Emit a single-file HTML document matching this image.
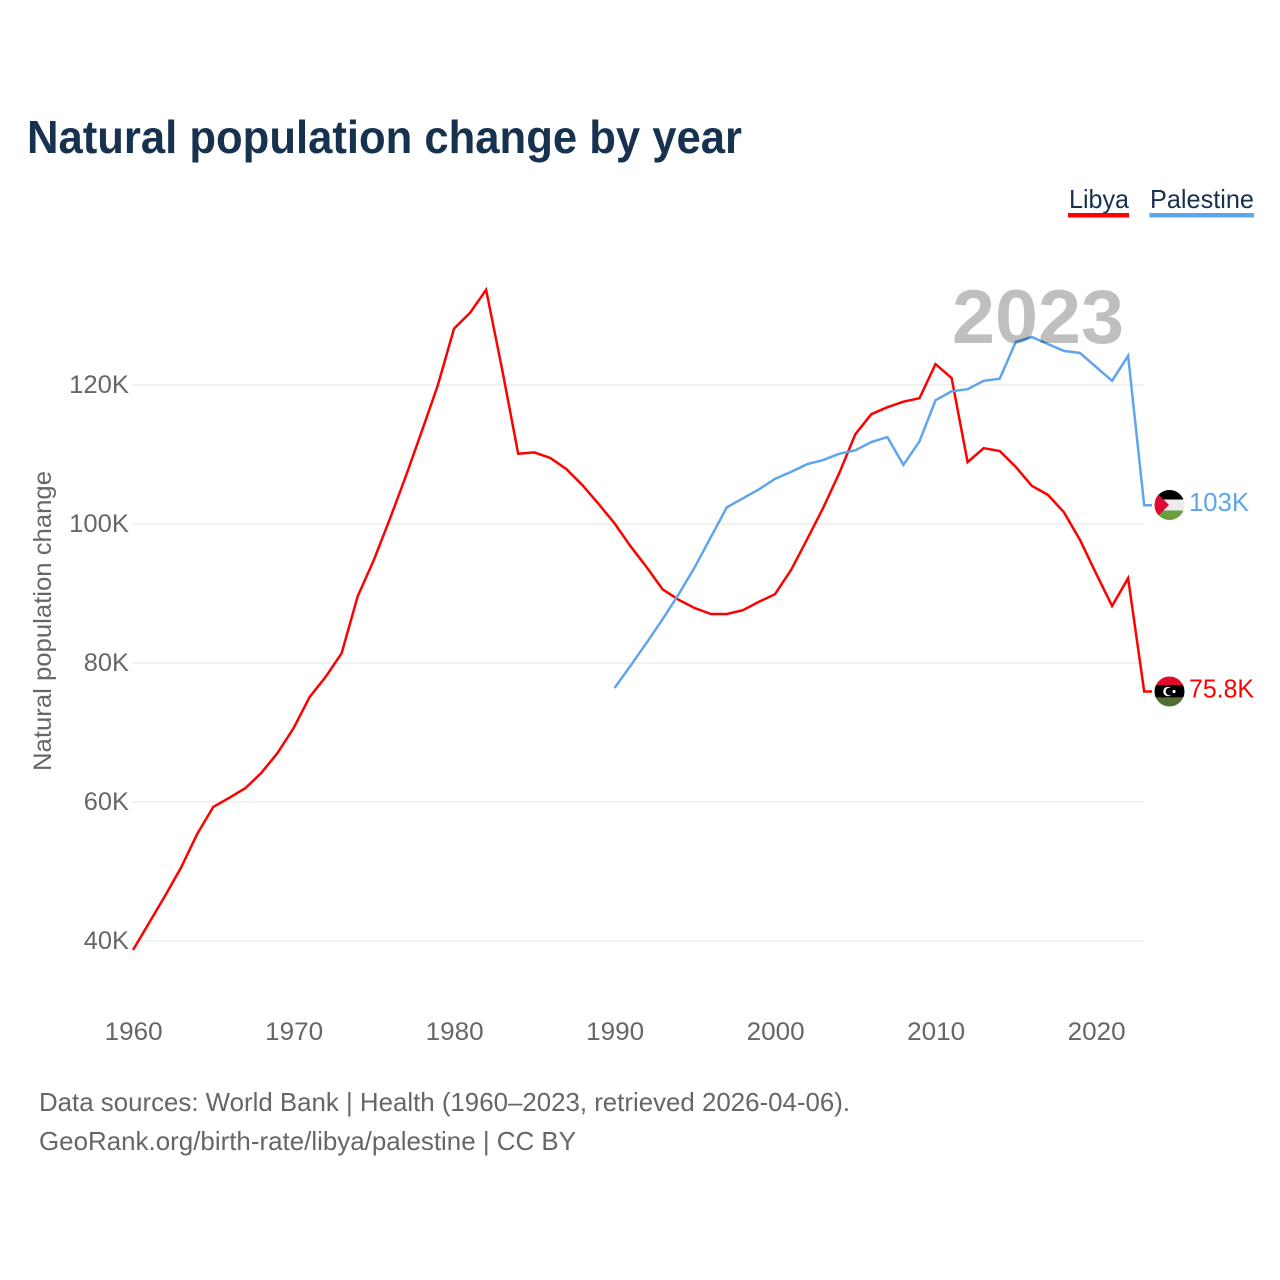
<!DOCTYPE html>
<html lang="en">
<head>
<meta charset="utf-8">
<title>Natural population change by year</title>
<style>
html,body{margin:0;padding:0;background:#fff;}
svg{display:block;font-family:"Liberation Sans",Arial,sans-serif;}
</style>
</head>
<body>
<svg id="chart" xmlns="http://www.w3.org/2000/svg" width="1280" height="1280" viewBox="0 0 1280 1280">
  <rect x="0" y="0" width="1280" height="1280" fill="#ffffff"/>
  <text x="27" y="153" font-size="46" font-weight="700" fill="#17324f" textLength="715" lengthAdjust="spacingAndGlyphs">Natural population change by year</text>

  <g>
    <text x="1069" y="208" font-size="26" fill="#17324f" textLength="60" lengthAdjust="spacingAndGlyphs">Libya</text>
    <rect x="1068" y="213" width="61" height="4.5" fill="#ff0000"/>
  </g>
  <g>
    <text x="1150" y="208" font-size="26" fill="#17324f" textLength="104" lengthAdjust="spacingAndGlyphs">Palestine</text>
    <rect x="1149.500" y="213" width="104.500" height="4.500" fill="#60a5ec"/>
  </g>

  <g id="grid"></g>
  <g id="yticks"></g>
  <g id="xticks"></g>
  <text transform="translate(51,621) rotate(-90)" text-anchor="middle" font-size="25" fill="#666666" textLength="300" lengthAdjust="spacingAndGlyphs">Natural population change</text>

  <g id="series"></g>

  <text x="1124" y="343" text-anchor="end" font-size="76" font-weight="700" fill="#000000" fill-opacity="0.25" textLength="172" lengthAdjust="spacingAndGlyphs">2023</text>

  <defs>
    <clipPath id="clip-ps"><circle cx="1169.500" cy="505" r="15"/></clipPath>
    <clipPath id="clip-ly"><circle cx="1169.500" cy="691.500" r="15"/></clipPath>
  </defs>
  <g id="flag-ps" clip-path="url(#clip-ps)">
    <rect x="1154" y="490" width="31" height="10" fill="#000000"/>
    <rect x="1154" y="499.500" width="31" height="11" fill="#ececec"/>
    <rect x="1154" y="510.500" width="31" height="10" fill="#6a9f3f"/>
    <polygon points="1154,490 1169,505 1154,520" fill="#dc0a32"/>
  </g>
  <g id="flag-ly" clip-path="url(#clip-ly)">
    <rect x="1154" y="676" width="31" height="9.500" fill="#e00a2e"/>
    <rect x="1154" y="685" width="31" height="12.500" fill="#000000"/>
    <rect x="1154" y="697.300" width="31" height="10" fill="#4f6f35"/>
    <circle cx="1168" cy="691.500" r="4.800" fill="#ffffff"/>
    <circle cx="1169.600" cy="691.500" r="3.900" fill="#000000"/>
    <circle cx="1174" cy="691.500" r="1.600" fill="#ffffff"/>
  </g>

  <g id="end-labels"></g>

  <text x="39" y="1111" font-size="26" fill="#666666" textLength="811" lengthAdjust="spacingAndGlyphs">Data sources: World Bank | Health (1960–2023, retrieved 2026-04-06).</text>
  <text x="39" y="1150" font-size="26" fill="#666666" textLength="537" lengthAdjust="spacingAndGlyphs">GeoRank.org/birth-rate/libya/palestine | CC BY</text>
</svg>
<script>
const libyaStartYear = 1960;
const palestineStartYear = 1990;
const libyaValues = [38.7,42.6,46.5,50.6,55.4,59.3,60.6,62.0,64.2,67.05,70.6,75.1,78.0,81.4,89.6,94.8,100.7,106.9,113.4,120.0,128.1,130.4,133.7,122.2,110.1,110.3,109.5,107.9,105.6,102.9,100.1,96.8,93.8,90.6,89.1,87.9,87.05,87.05,87.6,88.8,89.9,93.4,97.8,102.3,107.3,112.9,115.8,116.8,117.6,118.1,123.0,121.0,108.9,110.9,110.5,108.2,105.5,104.2,101.7,97.7,92.9,88.2,92.2,75.9];
const palestineValues = [76.4,79.6,82.9,86.3,89.9,93.8,98.1,102.4,103.7,105.0,106.5,107.5,108.6,109.2,110.1,110.6,111.8,112.5,108.5,111.9,117.8,119.1,119.4,120.6,120.9,126.2,126.9,125.9,124.9,124.6,122.6,120.6,124.2,102.7];
const yTickValues = [40,60,80,100,120];
const yTickLabels = ['40K','60K','80K','100K','120K'];
const xTickValues = [1960,1970,1980,1990,2000,2010,2020];
const libyaEndLabel = '75.8K';
const palestineEndLabel = '103K';

const NS = 'http://www.w3.org/2000/svg';
function xScale(year){ return 133 + (year - 1960) * 16.05; }
function yScale(k){ return 941 - (k - 40) * 6.95; }
function make(tag, attrs, parent){
  const el = document.createElementNS(NS, tag);
  for (const key in attrs) el.setAttribute(key, attrs[key]);
  parent.appendChild(el);
  return el;
}

const grid = document.getElementById('grid');
const yticks = document.getElementById('yticks');
yTickValues.forEach(function(v, i){
  const line = make('line', {x1:132, x2:1144, y1:yScale(v), y2:yScale(v), stroke:'#eeeeee', 'stroke-width':1.6}, grid);
  
  
  const label = yTickLabels[i];
  const t = make('text', {x:129, y:yScale(v)+8, 'text-anchor':'end', 'font-size':25, fill:'#666666', textLength:(label.length-1)*14.6+16, lengthAdjust:'spacingAndGlyphs'}, yticks);
  
  
  t.textContent = label;
});

const xticks = document.getElementById('xticks');
xTickValues.forEach(function(year){
  const t = make('text', {x:xScale(year)+0.7, y:1040, 'text-anchor':'middle', 'font-size':25, fill:'#666666', textLength:58, lengthAdjust:'spacingAndGlyphs'}, xticks);
  
  
  t.textContent = String(year);
});

function seriesPoints(values, startYear){
  return values.map(function(v, i){
    return xScale(startYear + i).toFixed(1) + ',' + yScale(v).toFixed(1);
  });
}
const series = document.getElementById('series');

const libyaPts = seriesPoints(libyaValues, libyaStartYear);
libyaPts.push('1152,' + yScale(libyaValues[libyaValues.length-1]).toFixed(1));
const libyaLine = make('polyline', {points:libyaPts.join(' '), fill:'none', stroke:'#ff0000', 'stroke-width':2.5, 'stroke-linejoin':'miter'}, series);



const palestinePts = seriesPoints(palestineValues, palestineStartYear);
palestinePts.push('1152,' + yScale(palestineValues[palestineValues.length-1]).toFixed(1));
const palestineLine = make('polyline', {points:palestinePts.join(' '), fill:'none', stroke:'#60a5ec', 'stroke-width':2.5, 'stroke-linejoin':'miter'}, series);



const endLabels = document.getElementById('end-labels');
const libyaEnd = make('text', {x:1189, y:yScale(libyaValues[libyaValues.length-1])+6, 'font-size':26, fill:'#ff0000', textLength:65, lengthAdjust:'spacingAndGlyphs'}, endLabels);


libyaEnd.textContent = libyaEndLabel;

const palestineEnd = make('text', {x:1189, y:yScale(palestineValues[palestineValues.length-1])+6, 'font-size':26, fill:'#60a5ec', textLength:60, lengthAdjust:'spacingAndGlyphs'}, endLabels);


palestineEnd.textContent = palestineEndLabel;
</script>
</body>
</html>
